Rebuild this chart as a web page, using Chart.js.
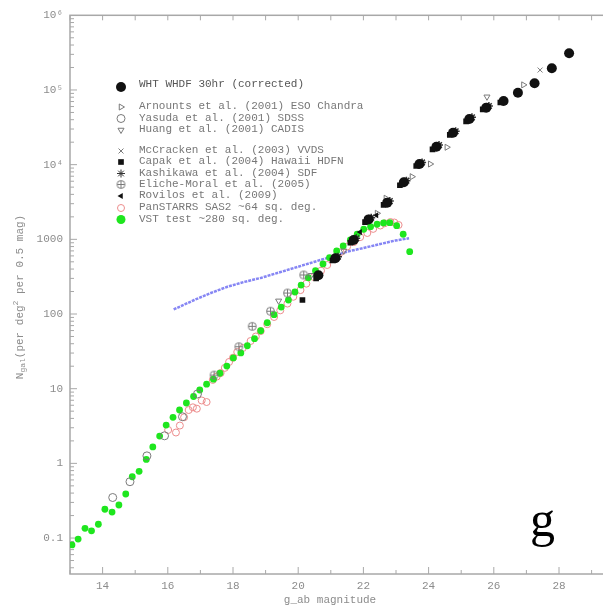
<!DOCTYPE html>
<html>
<head>
<meta charset="utf-8">
<script src="https://cdn.jsdelivr.net/npm/chart.js@4.4.0/dist/chart.umd.min.js"></script>
<style>
  html, body { margin: 0; padding: 0; background: #fff; overflow: hidden; }
  #wrap { width: 660px; height: 608px; }
</style>
</head>
<body>
<div id="wrap"><canvas id="chart" width="660" height="608"></canvas></div>
<script>
// axis ticks
const xTickValues = [14, 16, 18, 20, 22, 24, 26, 28];
const yTickValues = [0.1, 1, 10, 100, 1000, 1e4, 1e5, 1e6];
const yTickLabels = ["0.1", "1", "10", "100", "1000", "10\u2074", "10\u2075", "10\u2076"];

// WHT WHDF 30hr (corrected)
const whtMag = [20.62, 21.14, 21.70, 22.16, 22.73, 23.24, 23.72, 24.24, 24.75, 25.25, 25.77, 26.30, 26.74, 27.25, 27.78, 28.31];
const whtN = [330, 557, 980, 1850, 3100, 5800, 10200, 17400, 26800, 40900, 58000, 71000, 92000, 123000, 195000, 310000];

// Arnouts et al. (2001) ESO Chandra
const arnMag = [22.42, 22.69, 23.49, 24.05, 24.56, 26.91];
const arnN = [2230, 3550, 6900, 10200, 17100, 117000];

// Yasuda et al. (2001) SDSS
const yasMag = [14.31, 14.84, 15.36, 15.90, 16.45, 16.91];
const yasN = [0.349, 0.568, 1.26, 2.34, 4.21, 8.5];

// Huang et al. (2001) CADIS
const huaMag = [19.4, 20.4, 21.4, 25.79];
const huaN = [150, 330, 700, 81000];

// McCracken et al. (2003) VVDS
const mccMag = [27.42];
const mccN = [185000];

// Capak et al. (2004) Hawaii HDFN
const capMag = [20.13, 20.55, 21.05, 21.6, 22.05, 22.62, 23.12, 23.62, 24.12, 24.65, 25.15, 25.66, 26.2];
const capN = [154, 300, 520, 900, 1700, 2900, 5300, 9600, 16000, 25000, 38000, 55000, 68000];

// Kashikawa et al. (2004) SDF
const kasMag = [21.22, 21.78, 22.24, 22.81, 23.32, 23.8, 24.32, 24.83, 25.33, 25.85];
const kasN = [585, 1030, 1950, 3250, 6100, 10700, 18300, 28000, 43000, 61000];

// Eliche-Moral et al. (2005)
const eliMag = [17.42, 18.18, 18.59, 19.15, 19.67, 20.17];
const eliN = [15.2, 36.5, 68.4, 109, 191, 333];

// Rovilos et al. (2009)
const rovMag = [21.9, 22.4];
const rovN = [1250, 2100];

// PanSTARRS SAS2 ~64 sq. deg.
const panMag = [16.01, 16.25, 16.37, 16.50, 16.64, 16.77, 16.89, 17.04, 17.19,
  17.38, 17.50, 17.62, 17.75, 17.88, 18.0, 18.13, 18.3, 18.54, 18.7,
  18.85, 19.05, 19.26, 19.45, 19.67, 19.85, 20.07, 20.25, 20.48, 20.7,
  20.89, 21.1, 21.30, 21.5, 21.71, 21.9, 22.12, 22.3, 22.52, 22.65,
  22.83, 22.95, 23.08];
const panN = [2.80, 2.59, 3.21, 4.14, 5.18, 5.63, 5.40, 6.95, 6.63,
  13.1, 14.5, 16.2, 19, 22.8, 26, 31.0, 35, 43.5, 50,
  59.1, 73, 91.2, 112, 138, 170, 209, 255, 313, 380,
  453, 560, 676, 800, 920, 1070, 1216, 1380, 1531, 1640,
  1706, 1680, 1556];

// VST test ~280 sq. deg.
const vstMag = [13.06, 13.25, 13.46, 13.66, 13.87, 14.07, 14.29, 14.50, 14.71, 14.91,
  15.12, 15.34, 15.54, 15.75, 15.95, 16.16, 16.36, 16.57, 16.79, 16.98,
  17.19, 17.40, 17.60, 17.81, 18.01, 18.24, 18.44, 18.66, 18.85, 19.05,
  19.26, 19.48, 19.70, 19.90, 20.09, 20.31, 20.53, 20.76, 20.96, 21.18,
  21.38, 21.60, 21.81, 22.01, 22.22, 22.42, 22.62, 22.81, 23.02, 23.22, 23.42];
const vstN = [0.081, 0.097, 0.135, 0.125, 0.153, 0.243, 0.223, 0.277, 0.389, 0.662,
  0.782, 1.13, 1.66, 2.32, 3.26, 4.14, 5.18, 6.43, 7.86, 9.6,
  11.5, 13.4, 16.1, 20.1, 25.8, 30.1, 37.6, 46.7, 59.7, 76.4,
  97.9, 124, 154, 197, 244, 306, 380, 468, 568, 698,
  815, 980, 1169, 1365, 1479, 1592, 1657, 1671, 1524, 1169, 684];

// blue curve (no legend entry)
const modelMag = [16.18, 16.81, 17.32, 17.83, 18.33, 18.85, 19.46, 19.87, 20.48, 20.99, 21.50, 22.00, 22.52, 22.98, 23.40];
const modelN = [115, 154, 191, 232, 268, 304, 365, 413, 498, 580, 684, 765, 866, 964, 1032];

const gray = "#8c8c8c";
const symGray = "#7a7a7a";
const mono = '"Liberation Mono", "DejaVu Sans Mono", monospace';

const pts = (xs, ys) => xs.map((x, i) => ({ x, y: ys[i] }));

// circle with a plus, for Eliche-Moral
const oplus = document.createElement("canvas");
oplus.width = 11; oplus.height = 11;
{
  const c = oplus.getContext("2d");
  c.strokeStyle = symGray; c.lineWidth = 1;
  c.beginPath(); c.arc(5.5, 5.5, 4, 0, Math.PI * 2); c.stroke();
  c.beginPath(); c.moveTo(5.5, 2); c.lineTo(5.5, 9); c.moveTo(2, 5.5); c.lineTo(9, 5.5); c.stroke();
}

const none = "rgba(0,0,0,0)";
const datasets = [
  { label: "WHT WHDF 30hr (corrected)", data: pts(whtMag, whtN), pointStyle: "circle", pointRadius: 5,
    pointBackgroundColor: "#111", pointBorderColor: "#111", pointBorderWidth: 0, order: 0 },
  { label: "Arnounts et al. (2001) ESO Chandra", data: pts(arnMag, arnN), pointStyle: "triangle", pointRotation: 90,
    pointRadius: 3.5, pointBackgroundColor: none, pointBorderColor: symGray, pointBorderWidth: 1, order: 4 },
  { label: "Yasuda et al. (2001) SDSS", data: pts(yasMag, yasN), pointStyle: "circle", pointRadius: 4,
    pointBackgroundColor: none, pointBorderColor: symGray, pointBorderWidth: 1, order: 5 },
  { label: "Huang et al. (2001) CADIS", data: pts(huaMag, huaN), pointStyle: "triangle", pointRotation: 180,
    pointRadius: 3.5, pointBackgroundColor: none, pointBorderColor: symGray, pointBorderWidth: 1, order: 6 },
  { label: "McCracken et al. (2003) VVDS", data: pts(mccMag, mccN), pointStyle: "crossRot", pointRadius: 3.5,
    pointBackgroundColor: none, pointBorderColor: symGray, pointBorderWidth: 1, order: 7 },
  { label: "Capak et al. (2004) Hawaii HDFN", data: pts(capMag, capN), pointStyle: "rect", pointRadius: 4,
    pointBackgroundColor: "#111", pointBorderColor: "#111", pointBorderWidth: 0, order: 1 },
  { label: "Kashikawa et al. (2004) SDF", data: pts(kasMag, kasN), pointStyle: "star", pointRadius: 4,
    pointBackgroundColor: none, pointBorderColor: "#333", pointBorderWidth: 1.5, order: 2 },
  { label: "Eliche-Moral et al. (2005)", data: pts(eliMag, eliN), pointStyle: oplus, pointRadius: 4,
    pointBackgroundColor: none, pointBorderColor: symGray, order: 8 },
  { label: "Rovilos et al. (2009)", data: pts(rovMag, rovN), pointStyle: "triangle", pointRotation: -90,
    pointRadius: 3.5, pointBackgroundColor: "#111", pointBorderColor: "#111", pointBorderWidth: 0, order: 3 },
  { label: "PanSTARRS SAS2 ~64 sq. deg.", data: pts(panMag, panN), pointStyle: "circle", pointRadius: 3.5,
    pointBackgroundColor: none, pointBorderColor: "#ec8c8c", pointBorderWidth: 1, order: 10 },
  { label: "VST test ~280 sq. deg.", data: pts(vstMag, vstN), pointStyle: "circle", pointRadius: 3.4,
    pointBackgroundColor: "#1ee61e", pointBorderColor: "#1ee61e", pointBorderWidth: 0, order: 9 },
  { label: "", data: pts(modelMag, modelN), showLine: true, pointRadius: 0, borderColor: "#8686f4",
    borderWidth: 2.5, borderDash: [3, 1], order: 11 },
];

// legend rows: [symbol y, text y]
const legendRows = [[87, 84], [107, 106.5], [118.5, 118], [130, 129.5], [151, 150.5], [162, 161.5],
  [173.5, 173], [184.5, 184], [196, 195.5], [208, 207.5], [219.5, 219]];

const frame = {
  id: "frame",
  beforeDatasetsDraw(chart) {
    const { ctx, chartArea: a, scales: { x, y } } = chart;
    ctx.save();
    ctx.strokeStyle = "#a8a8a8";
    ctx.lineWidth = 1.5;
    ctx.strokeRect(a.left, a.top, a.right - a.left, a.bottom - a.top);
    ctx.lineWidth = 1;
    ctx.beginPath();
    for (let m = 13; m <= 30; m++) {
      const px = x.getPixelForValue(m);
      ctx.moveTo(px, a.bottom); ctx.lineTo(px, a.bottom - (m % 2 === 0 ? 7 : 4));
      ctx.moveTo(px, a.top); ctx.lineTo(px, a.top + 5);
    }
    for (let e = -2; e <= 5; e++) {
      for (let k = 1; k <= 9; k++) {
        const v = k * Math.pow(10, e);
        if (v < y.min || v > y.max) continue;
        const py = y.getPixelForValue(v);
        ctx.moveTo(a.left, py); ctx.lineTo(a.left + (k === 1 ? 7 : 4), py);
      }
    }
    ctx.stroke();
    ctx.restore();
  },
  afterDraw(chart) {
    const { ctx } = chart;
    ctx.save();
    // y title with sub/superscript
    ctx.translate(20, 297);
    ctx.rotate(-Math.PI / 2);
    ctx.fillStyle = gray;
    ctx.textBaseline = "middle";
    const big = "11px " + mono, small = "8px " + mono;
    const parts = [["N", big, 0], ["gal", small, 3], ["(per deg", big, 0], ["2", small, -4], [" per 0.5 mag)", big, 0]];
    let w = 0;
    parts.forEach(p => { ctx.font = p[1]; w += ctx.measureText(p[0]).width; });
    let cx = -w / 2;
    parts.forEach(p => { ctx.font = p[1]; ctx.fillText(p[0], cx, p[2]); cx += ctx.measureText(p[0]).width; });
    ctx.restore();

    ctx.save();
    ctx.fillStyle = gray;
    ctx.font = "11px " + mono;
    ctx.textAlign = "center";
    ctx.textBaseline = "middle";
    ctx.fillText("g_ab magnitude", 330, 600);

    // legend
    ctx.textAlign = "left";
    chart.data.datasets.forEach((ds, i) => {
      if (!ds.label) return;
      const [sy, ty] = legendRows[i];
      ctx.fillStyle = i === 0 ? "#555" : "#777";
      ctx.font = "11px " + mono;
      ctx.fillText(ds.label, 139, ty);
      ctx.save();
      ctx.fillStyle = ds.pointBackgroundColor;
      ctx.strokeStyle = ds.pointBorderColor;
      const r = i === 10 ? 4.5 : ds.pointRadius;
      Chart.helpers.drawPoint(ctx, {
        pointStyle: ds.pointStyle, radius: r, rotation: ds.pointRotation || 0,
        borderWidth: ds.pointBorderWidth === undefined ? 1 : ds.pointBorderWidth,
      }, 121, sy);
      ctx.restore();
    });

    // panel letter
    ctx.fillStyle = "#000";
    ctx.font = '50px "Liberation Serif", "DejaVu Serif", serif';
    ctx.textAlign = "left";
    ctx.textBaseline = "alphabetic";
    ctx.fillText("g", 530, 536);
    ctx.restore();
  },
};

new Chart(document.getElementById("chart"), {
  type: "scatter",
  data: { datasets },
  options: {
    responsive: false,
    animation: false,
    layout: { padding: { top: 15.3, right: 35.8, left: 0, bottom: 0 } },
    plugins: { legend: { display: false }, tooltip: { enabled: false } },
    scales: {
      x: {
        type: "linear",
        min: 13,
        max: 30,
        afterBuildTicks: (axis) => { axis.ticks = xTickValues.map((value) => ({ value })); },
        afterFit: (axis) => { axis.height = 34; },
        ticks: { callback: (v) => String(v), color: gray, font: { family: mono, size: 11 }, padding: 5, maxRotation: 0, autoSkip: false },
        grid: { display: false, drawTicks: false },
        border: { display: false },
      },
      y: {
        type: "logarithmic",
        min: 0.033,
        max: 1e6,
        afterBuildTicks: (axis) => { axis.ticks = yTickValues.map((value) => ({ value })); },
        afterFit: (axis) => { axis.width = 70; },
        ticks: { callback: (v, i) => yTickLabels[i], color: gray, font: { family: mono, size: 11 }, padding: 7, autoSkip: false },
        grid: { display: false, drawTicks: false },
        border: { display: false },
      },
    },
  },
  plugins: [frame],
});
</script>
</body>
</html>
